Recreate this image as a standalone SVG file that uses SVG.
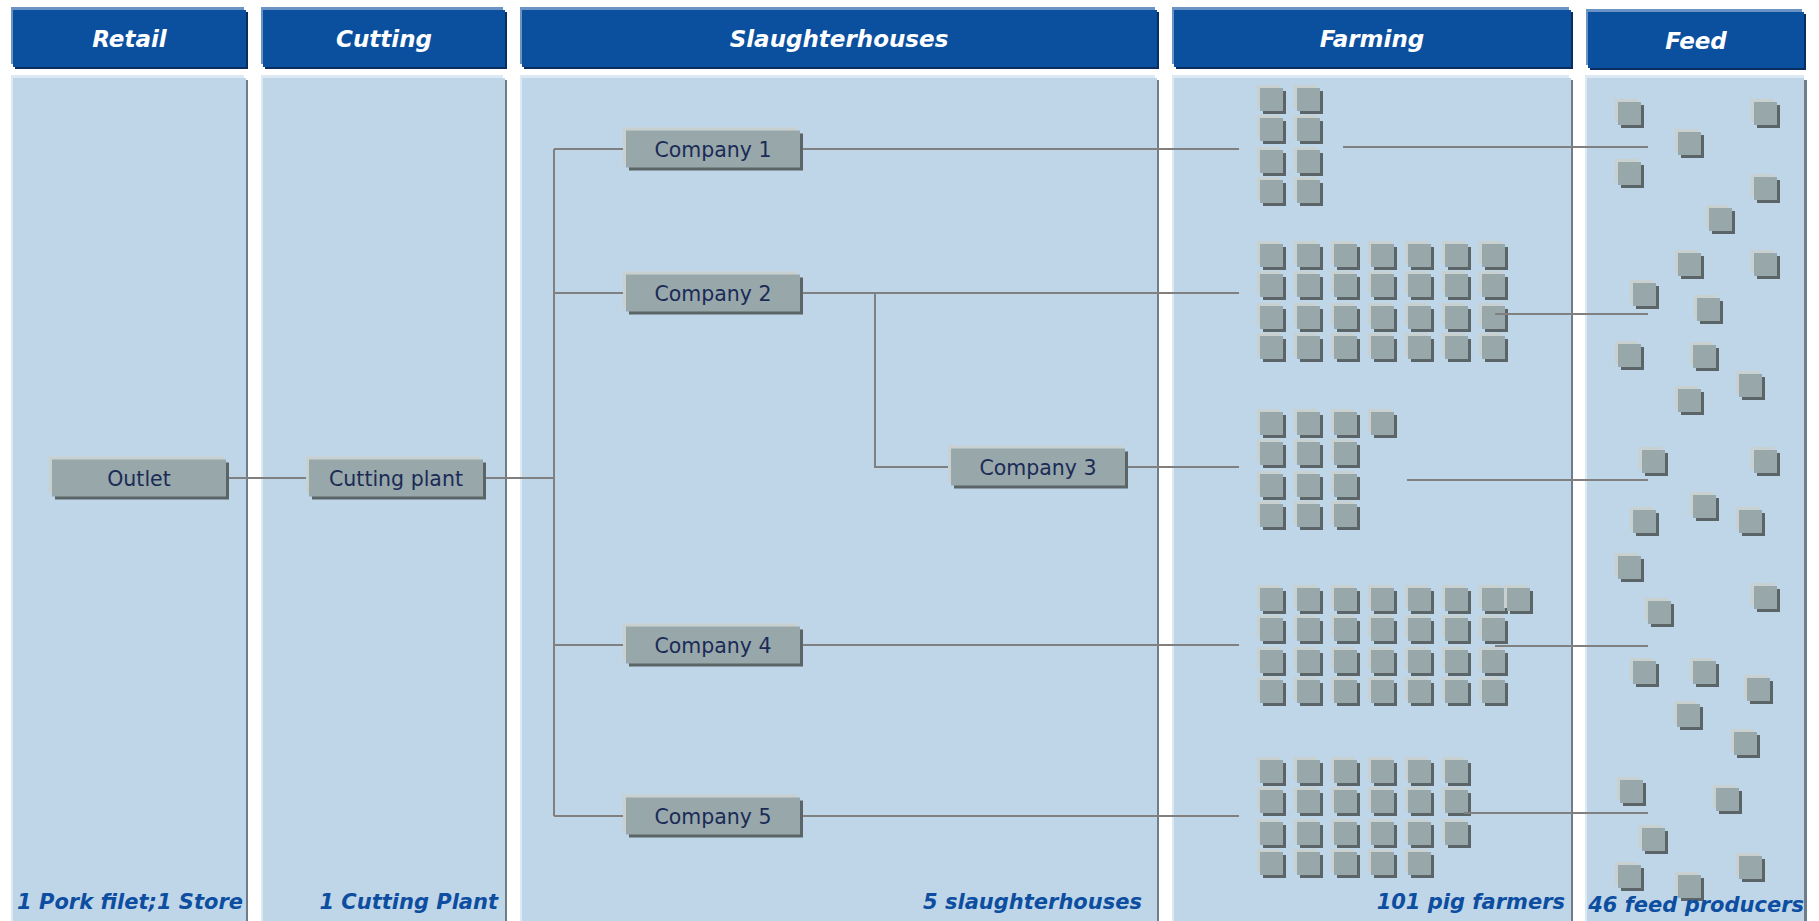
<svg xmlns="http://www.w3.org/2000/svg" xmlns:xlink="http://www.w3.org/1999/xlink" width="1819" height="921" viewBox="0 0 1819 921">
<defs>
<style>
.hl{fill:#6b93c4}.hb{fill:#0b4f9f}.hs{fill:#0a2d5f}
.pl{fill:#dce8f2}.pb{fill:#bfd6e9}.ps{fill:#6f7d88}
.ht{font-family:"DejaVu Sans",Verdana,sans-serif;font-weight:bold;font-style:italic;font-size:23px;fill:#ffffff;text-anchor:middle}
.ft{font-family:"DejaVu Sans",Verdana,sans-serif;font-weight:bold;font-style:italic;font-size:21px;fill:#0d4ea0;text-anchor:end}
.nt{font-family:"DejaVu Sans",Verdana,sans-serif;font-size:20.5px;fill:#1b2b56;text-anchor:middle}
.bl{fill:#c9d0d0}.bb{fill:#97a7aa}.bs{fill:#5b6567}
.cn{stroke:#808080;stroke-width:2;fill:none}
</style>
<g id="sq"><rect x="-3" y="-3" width="23" height="23" class="bl"/><rect x="3" y="3" width="23" height="23" class="bs"/><rect x="0" y="0" width="23" height="23" class="bb"/></g>
<g id="bx"><rect x="-3" y="-3" width="174" height="37" class="bl"/><rect x="3" y="3" width="174" height="37" class="bs"/><rect x="0" y="0" width="174" height="37" class="bb"/></g>
</defs>
<rect x="0" y="0" width="1819" height="921" fill="#ffffff"/>

<g id="col-retail">
<rect x="11" y="7" width="233" height="57" class="hl"/><rect x="15" y="12" width="233" height="57" class="hs"/><rect x="13" y="10" width="233" height="57" class="hb"/>
<text x="129.5" y="47" class="ht">Retail</text>
<rect x="11" y="75" width="233" height="860" class="pl"/><rect x="15" y="80" width="233" height="860" class="ps"/><rect x="13" y="78" width="233" height="860" class="pb"/>
<text x="243" y="909" class="ft">1 Pork filet;1 Store</text>
</g>
<g id="col-cutting">
<rect x="261" y="7" width="242" height="57" class="hl"/><rect x="265" y="12" width="242" height="57" class="hs"/><rect x="263" y="10" width="242" height="57" class="hb"/>
<text x="384" y="47" class="ht">Cutting</text>
<rect x="261" y="75" width="242" height="860" class="pl"/><rect x="265" y="80" width="242" height="860" class="ps"/><rect x="263" y="78" width="242" height="860" class="pb"/>
<text x="498" y="909" class="ft">1 Cutting Plant</text>
</g>
<g id="col-slaughterhouses">
<rect x="520" y="7" width="635" height="57" class="hl"/><rect x="524" y="12" width="635" height="57" class="hs"/><rect x="522" y="10" width="635" height="57" class="hb"/>
<text x="839" y="47" class="ht">Slaughterhouses</text>
<rect x="520" y="75" width="635" height="860" class="pl"/><rect x="524" y="80" width="635" height="860" class="ps"/><rect x="522" y="78" width="635" height="860" class="pb"/>
<text x="1142" y="909" class="ft">5 slaughterhouses</text>
</g>
<g id="col-farming">
<rect x="1172" y="7" width="397" height="57" class="hl"/><rect x="1176" y="12" width="397" height="57" class="hs"/><rect x="1174" y="10" width="397" height="57" class="hb"/>
<text x="1372" y="47" class="ht">Farming</text>
<rect x="1172" y="75" width="397" height="860" class="pl"/><rect x="1176" y="80" width="397" height="860" class="ps"/><rect x="1174" y="78" width="397" height="860" class="pb"/>
</g>
<g id="col-feed">
<rect x="1586" y="9" width="216" height="56" class="hl"/><rect x="1590" y="14" width="216" height="56" class="hs"/><rect x="1588" y="12" width="216" height="56" class="hb"/>
<text x="1696" y="49" class="ht">Feed</text>
<rect x="1585" y="75" width="219" height="860" class="pl"/><rect x="1589" y="80" width="218" height="860" class="ps"/><rect x="1587" y="78" width="217" height="860" class="pb"/>
</g>

<g id="farmers-1">
<use xlink:href="#sq" x="1260" y="88"/><use xlink:href="#sq" x="1297" y="88"/>
<use xlink:href="#sq" x="1260" y="118"/><use xlink:href="#sq" x="1297" y="118"/>
<use xlink:href="#sq" x="1260" y="150"/><use xlink:href="#sq" x="1297" y="150"/>
<use xlink:href="#sq" x="1260" y="180"/><use xlink:href="#sq" x="1297" y="180"/>
</g>
<g id="farmers-2">
<use xlink:href="#sq" x="1260" y="244"/><use xlink:href="#sq" x="1297" y="244"/><use xlink:href="#sq" x="1334" y="244"/><use xlink:href="#sq" x="1371" y="244"/><use xlink:href="#sq" x="1408" y="244"/><use xlink:href="#sq" x="1445" y="244"/><use xlink:href="#sq" x="1482" y="244"/>
<use xlink:href="#sq" x="1260" y="274"/><use xlink:href="#sq" x="1297" y="274"/><use xlink:href="#sq" x="1334" y="274"/><use xlink:href="#sq" x="1371" y="274"/><use xlink:href="#sq" x="1408" y="274"/><use xlink:href="#sq" x="1445" y="274"/><use xlink:href="#sq" x="1482" y="274"/>
<use xlink:href="#sq" x="1260" y="306"/><use xlink:href="#sq" x="1297" y="306"/><use xlink:href="#sq" x="1334" y="306"/><use xlink:href="#sq" x="1371" y="306"/><use xlink:href="#sq" x="1408" y="306"/><use xlink:href="#sq" x="1445" y="306"/><use xlink:href="#sq" x="1482" y="306"/>
<use xlink:href="#sq" x="1260" y="336"/><use xlink:href="#sq" x="1297" y="336"/><use xlink:href="#sq" x="1334" y="336"/><use xlink:href="#sq" x="1371" y="336"/><use xlink:href="#sq" x="1408" y="336"/><use xlink:href="#sq" x="1445" y="336"/><use xlink:href="#sq" x="1482" y="336"/>
</g>
<g id="farmers-3">
<use xlink:href="#sq" x="1260" y="412"/><use xlink:href="#sq" x="1297" y="412"/><use xlink:href="#sq" x="1334" y="412"/><use xlink:href="#sq" x="1371" y="412"/>
<use xlink:href="#sq" x="1260" y="442"/><use xlink:href="#sq" x="1297" y="442"/><use xlink:href="#sq" x="1334" y="442"/>
<use xlink:href="#sq" x="1260" y="474"/><use xlink:href="#sq" x="1297" y="474"/><use xlink:href="#sq" x="1334" y="474"/>
<use xlink:href="#sq" x="1260" y="504"/><use xlink:href="#sq" x="1297" y="504"/><use xlink:href="#sq" x="1334" y="504"/>
</g>
<g id="farmers-4">
<use xlink:href="#sq" x="1260" y="588"/><use xlink:href="#sq" x="1297" y="588"/><use xlink:href="#sq" x="1334" y="588"/><use xlink:href="#sq" x="1371" y="588"/><use xlink:href="#sq" x="1408" y="588"/><use xlink:href="#sq" x="1445" y="588"/><use xlink:href="#sq" x="1482" y="588"/><use xlink:href="#sq" x="1507" y="588"/>
<use xlink:href="#sq" x="1260" y="618"/><use xlink:href="#sq" x="1297" y="618"/><use xlink:href="#sq" x="1334" y="618"/><use xlink:href="#sq" x="1371" y="618"/><use xlink:href="#sq" x="1408" y="618"/><use xlink:href="#sq" x="1445" y="618"/><use xlink:href="#sq" x="1482" y="618"/>
<use xlink:href="#sq" x="1260" y="650"/><use xlink:href="#sq" x="1297" y="650"/><use xlink:href="#sq" x="1334" y="650"/><use xlink:href="#sq" x="1371" y="650"/><use xlink:href="#sq" x="1408" y="650"/><use xlink:href="#sq" x="1445" y="650"/><use xlink:href="#sq" x="1482" y="650"/>
<use xlink:href="#sq" x="1260" y="680"/><use xlink:href="#sq" x="1297" y="680"/><use xlink:href="#sq" x="1334" y="680"/><use xlink:href="#sq" x="1371" y="680"/><use xlink:href="#sq" x="1408" y="680"/><use xlink:href="#sq" x="1445" y="680"/><use xlink:href="#sq" x="1482" y="680"/>
</g>
<g id="farmers-5">
<use xlink:href="#sq" x="1260" y="760"/><use xlink:href="#sq" x="1297" y="760"/><use xlink:href="#sq" x="1334" y="760"/><use xlink:href="#sq" x="1371" y="760"/><use xlink:href="#sq" x="1408" y="760"/><use xlink:href="#sq" x="1445" y="760"/>
<use xlink:href="#sq" x="1260" y="790"/><use xlink:href="#sq" x="1297" y="790"/><use xlink:href="#sq" x="1334" y="790"/><use xlink:href="#sq" x="1371" y="790"/><use xlink:href="#sq" x="1408" y="790"/><use xlink:href="#sq" x="1445" y="790"/>
<use xlink:href="#sq" x="1260" y="822"/><use xlink:href="#sq" x="1297" y="822"/><use xlink:href="#sq" x="1334" y="822"/><use xlink:href="#sq" x="1371" y="822"/><use xlink:href="#sq" x="1408" y="822"/><use xlink:href="#sq" x="1445" y="822"/>
<use xlink:href="#sq" x="1260" y="852"/><use xlink:href="#sq" x="1297" y="852"/><use xlink:href="#sq" x="1334" y="852"/><use xlink:href="#sq" x="1371" y="852"/><use xlink:href="#sq" x="1408" y="852"/>
</g>
<text x="1565" y="909" class="ft">101 pig farmers</text>

<g id="feed-producers">
<use xlink:href="#sq" x="1618" y="102"/><use xlink:href="#sq" x="1754" y="102"/><use xlink:href="#sq" x="1678" y="132"/><use xlink:href="#sq" x="1618" y="162"/>
<use xlink:href="#sq" x="1754" y="177"/><use xlink:href="#sq" x="1709" y="208"/><use xlink:href="#sq" x="1678" y="253"/><use xlink:href="#sq" x="1754" y="253"/>
<use xlink:href="#sq" x="1633" y="283"/><use xlink:href="#sq" x="1697" y="298"/><use xlink:href="#sq" x="1618" y="344"/><use xlink:href="#sq" x="1693" y="345"/>
<use xlink:href="#sq" x="1739" y="374"/><use xlink:href="#sq" x="1678" y="389"/><use xlink:href="#sq" x="1642" y="450"/><use xlink:href="#sq" x="1754" y="450"/>
<use xlink:href="#sq" x="1693" y="495"/><use xlink:href="#sq" x="1633" y="510"/><use xlink:href="#sq" x="1739" y="510"/><use xlink:href="#sq" x="1618" y="556"/>
<use xlink:href="#sq" x="1754" y="586"/><use xlink:href="#sq" x="1648" y="601"/><use xlink:href="#sq" x="1633" y="661"/><use xlink:href="#sq" x="1693" y="661"/>
<use xlink:href="#sq" x="1747" y="678"/><use xlink:href="#sq" x="1677" y="704"/><use xlink:href="#sq" x="1734" y="732"/><use xlink:href="#sq" x="1620" y="780"/>
<use xlink:href="#sq" x="1716" y="788"/><use xlink:href="#sq" x="1642" y="828"/><use xlink:href="#sq" x="1618" y="865"/><use xlink:href="#sq" x="1739" y="856"/>
<use xlink:href="#sq" x="1678" y="875"/>
</g>
<text x="1804" y="912" class="ft">46 feed producers</text>

<g id="connectors">
<path class="cn" d="M226 478H309"/>
<path class="cn" d="M483 478H554"/>
<path class="cn" d="M554 149V816"/>
<path class="cn" d="M554 149H626M554 293H626M554 645H626M554 816H626"/>
<path class="cn" d="M800 149H1239"/>
<path class="cn" d="M800 293H1239"/>
<path class="cn" d="M875 293V467H951"/>
<path class="cn" d="M1125 467H1239"/>
<path class="cn" d="M800 645H1239"/>
<path class="cn" d="M800 816H1239"/>
<path class="cn" d="M1343 147H1648"/>
<path class="cn" d="M1495 314H1648"/>
<path class="cn" d="M1407 480H1648"/>
<path class="cn" d="M1495 646H1648"/>
<path class="cn" d="M1464 813H1648"/>
</g>

<g id="outlet"><use xlink:href="#bx" x="52" y="459.5"/><text x="139" y="485.5" class="nt">Outlet</text></g>
<g id="cutting-plant"><use xlink:href="#bx" x="309" y="459.5"/><text x="396" y="485.5" class="nt">Cutting plant</text></g>
<g id="company-1"><use xlink:href="#bx" x="626" y="130.5"/><text x="713" y="156.5" class="nt">Company 1</text></g>
<g id="company-2"><use xlink:href="#bx" x="626" y="274.5"/><text x="713" y="300.5" class="nt">Company 2</text></g>
<g id="company-3"><use xlink:href="#bx" x="951" y="448.5"/><text x="1038" y="474.5" class="nt">Company 3</text></g>
<g id="company-4"><use xlink:href="#bx" x="626" y="626.5"/><text x="713" y="652.5" class="nt">Company 4</text></g>
<g id="company-5"><use xlink:href="#bx" x="626" y="797.5"/><text x="713" y="823.5" class="nt">Company 5</text></g>
</svg>
